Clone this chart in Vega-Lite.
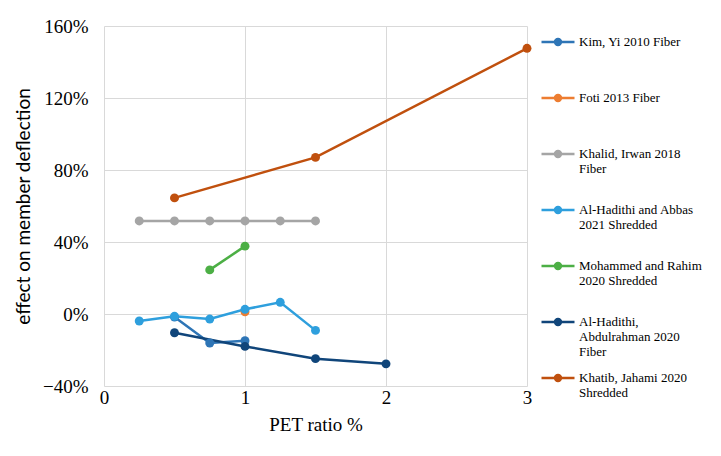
{
  "$schema": "https://vega.github.io/schema/vega-lite/v6.json",
  "width": 423,
  "height": 360,
  "autosize": "none",
  "padding": {"left": 104, "top": 26, "right": 194, "bottom": 70},
  "background": "white",
  "config": {
    "view": {"stroke": null},
    "axis": {"gridColor": "#d9d9d9", "gridWidth": 1, "domain": false, "ticks": false, "labelColor": "#000", "titleColor": "#000", "labelFont": "Liberation Serif", "labelFontSize": 19, "titleFontWeight": "normal"}
  },
  "data": {
    "values": [
      {"series": "Kim, Yi 2010 Fiber", "x": 0.5, "y": -0.017},
      {"series": "Kim, Yi 2010 Fiber", "x": 0.75, "y": -0.161},
      {"series": "Kim, Yi 2010 Fiber", "x": 1.0, "y": -0.148},
      {"series": "Foti 2013 Fiber", "x": 1.0, "y": 0.012},
      {"series": "Khalid, Irwan 2018 Fiber", "x": 0.25, "y": 0.517},
      {"series": "Khalid, Irwan 2018 Fiber", "x": 0.5, "y": 0.517},
      {"series": "Khalid, Irwan 2018 Fiber", "x": 0.75, "y": 0.517},
      {"series": "Khalid, Irwan 2018 Fiber", "x": 1.0, "y": 0.517},
      {"series": "Khalid, Irwan 2018 Fiber", "x": 1.25, "y": 0.517},
      {"series": "Khalid, Irwan 2018 Fiber", "x": 1.5, "y": 0.517},
      {"series": "Al-Hadithi and Abbas 2021 Shredded", "x": 0.25, "y": -0.039},
      {"series": "Al-Hadithi and Abbas 2021 Shredded", "x": 0.5, "y": -0.013},
      {"series": "Al-Hadithi and Abbas 2021 Shredded", "x": 0.75, "y": -0.028},
      {"series": "Al-Hadithi and Abbas 2021 Shredded", "x": 1.0, "y": 0.026},
      {"series": "Al-Hadithi and Abbas 2021 Shredded", "x": 1.25, "y": 0.065},
      {"series": "Al-Hadithi and Abbas 2021 Shredded", "x": 1.5, "y": -0.091},
      {"series": "Mohammed and Rahim 2020 Shredded", "x": 0.75, "y": 0.245},
      {"series": "Mohammed and Rahim 2020 Shredded", "x": 1.0, "y": 0.377},
      {"series": "Al-Hadithi, Abdulrahman 2020 Fiber", "x": 0.5, "y": -0.104},
      {"series": "Al-Hadithi, Abdulrahman 2020 Fiber", "x": 1.0, "y": -0.18},
      {"series": "Al-Hadithi, Abdulrahman 2020 Fiber", "x": 1.5, "y": -0.248},
      {"series": "Al-Hadithi, Abdulrahman 2020 Fiber", "x": 2.0, "y": -0.277},
      {"series": "Khatib, Jahami 2020 Shredded", "x": 0.5, "y": 0.645},
      {"series": "Khatib, Jahami 2020 Shredded", "x": 1.5, "y": 0.87},
      {"series": "Khatib, Jahami 2020 Shredded", "x": 3.0, "y": 1.476}
    ]
  },
  "mark": {"type": "line", "strokeWidth": 2.5, "point": {"filled": true, "size": 80, "opacity": 1}},
  "encoding": {
    "x": {"field": "x", "type": "quantitative", "scale": {"domain": [0, 3], "nice": false},
      "axis": {"values": [0, 1, 2, 3], "title": "PET ratio %", "labelFont": "Liberation Serif", "labelFontSize": 19, "titleFont": "Liberation Serif", "titleFontSize": 19, "labelPadding": 2, "titlePadding": 8, "labelFlush": false}},
    "y": {"field": "y", "type": "quantitative", "scale": {"domain": [-0.4, 1.6], "nice": false},
      "axis": {"values": [-0.4, 0, 0.4, 0.8, 1.2, 1.6], "format": ".0%", "title": "effect on member deflection", "labelFont": "Liberation Serif", "labelFontSize": 19, "titleFont": "Lato", "titleFontSize": 19, "labelPadding": 16, "titlePadding": 9, "labelFlush": false}},
    "color": {"field": "series", "type": "nominal",
      "scale": {
        "domain": ["Kim, Yi 2010 Fiber", "Foti 2013 Fiber", "Khalid, Irwan 2018 Fiber", "Al-Hadithi and Abbas 2021 Shredded", "Mohammed and Rahim 2020 Shredded", "Al-Hadithi, Abdulrahman 2020 Fiber", "Khatib, Jahami 2020 Shredded"],
        "range": ["#2E75B6", "#ED7D31", "#A5A5A5", "#2E9FDD", "#4CAF45", "#10457A", "#C0500E"]
      },
      "legend": {
        "orient": "none", "legendX": 436, "legendY": -3, "title": null, "padding": 0,
        "gridAlign": "all", "rowPadding": 0, "clipHeight": 38,
        "symbolType": "M-1,0H1M0.18,0A0.18,0.18,0,1,1,-0.18,0A0.18,0.18,0,1,1,0.18,0Z",
        "symbolSize": 1089, "symbolStrokeWidth": 2.5,
        "labelFont": "Liberation Serif", "labelFontSize": 13, "labelColor": "#000", "labelLimit": 200, "labelOffset": 3, "labelBaseline": "middle", "labelLineHeight": 14,
        "labelExpr": "datum.label == 'Khalid, Irwan 2018 Fiber' ? ['Khalid, Irwan 2018', 'Fiber'] : datum.label == 'Al-Hadithi and Abbas 2021 Shredded' ? ['Al-Hadithi and Abbas', '2021 Shredded'] : datum.label == 'Mohammed and Rahim 2020 Shredded' ? ['Mohammed and Rahim', '2020 Shredded'] : datum.label == 'Al-Hadithi, Abdulrahman 2020 Fiber' ? ['Al-Hadithi,', 'Abdulrahman 2020', 'Fiber'] : datum.label == 'Khatib, Jahami 2020 Shredded' ? ['Khatib, Jahami 2020', 'Shredded'] : datum.label"
      }
    }
  }
}
